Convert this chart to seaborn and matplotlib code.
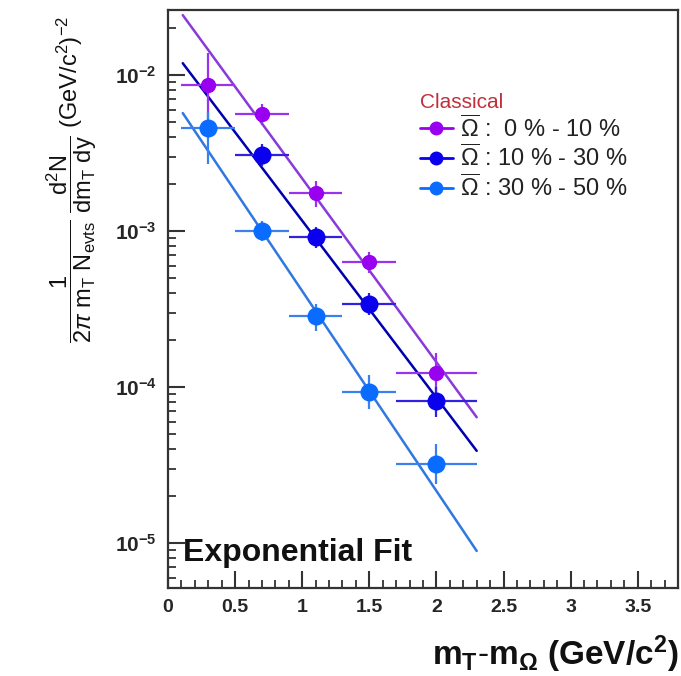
import numpy as np
import pandas as pd
import matplotlib
matplotlib.use("Agg")
import matplotlib.pyplot as plt
from matplotlib.lines import Line2D
from matplotlib.ticker import MultipleLocator, LogLocator, NullFormatter, FixedLocator
import seaborn as sns

# ---------------- data ----------------
series_labels = ["0 % - 10 %", "10 % - 30 %", "30 % - 50 %"]

x_c0 = [0.3, 0.7, 1.1, 1.5, 2.0]
y_c0 = [8.6e-3, 5.6e-3, 1.75e-3, 6.3e-4, 1.23e-4]
ylo_c0 = [5.2e-3, 4.8e-3, 1.43e-3, 5.4e-4, 9.0e-5]
yhi_c0 = [1.38e-2, 6.5e-3, 2.1e-3, 7.3e-4, 1.65e-4]

x_c1 = [0.7, 1.1, 1.5, 2.0]
y_c1 = [3.05e-3, 9.1e-4, 3.4e-4, 8.1e-5]
ylo_c1 = [2.6e-3, 7.8e-4, 2.9e-4, 6.4e-5]
yhi_c1 = [3.6e-3, 1.06e-3, 4.0e-4, 1.0e-4]

x_c2 = [0.3, 0.7, 1.1, 1.5, 2.0]
y_c2 = [4.55e-3, 1.0e-3, 2.85e-4, 9.3e-5, 3.2e-5]
ylo_c2 = [2.7e-3, 8.6e-4, 2.3e-4, 7.2e-5, 2.4e-5]
yhi_c2 = [5.8e-3, 1.16e-3, 3.4e-4, 1.2e-4, 4.3e-5]

xerr_lo = [0.2, 0.2, 0.2, 0.2, 0.3]
xerr_hi = [0.2, 0.2, 0.2, 0.2, 0.3]

fit_x = [0.11, 2.3]
fit_c0 = [2.42e-2, 6.4e-5]
fit_c1 = [1.19e-2, 3.9e-5]
fit_c2 = [5.7e-3, 8.9e-6]

x_ticks = [0, 0.5, 1, 1.5, 2, 2.5, 3, 3.5]
x_ticklabels = ["0", "0.5", "1", "1.5", "2", "2.5", "3", "3.5"]
y_ticks = [1e-5, 1e-4, 1e-3, 1e-2]
y_ticklabels = ["$\\mathbf{10^{-5}}$", "$\\mathbf{10^{-4}}$", "$\\mathbf{10^{-3}}$", "$\\mathbf{10^{-2}}$"]

# ---------------- style ----------------
sns.set_style("ticks")
plt.rcParams["font.family"] = ["Liberation Sans", "DejaVu Sans"]
plt.rcParams["mathtext.fontset"] = "custom"
plt.rcParams["mathtext.rm"] = "Liberation Sans"
plt.rcParams["mathtext.it"] = "Liberation Sans:italic"
plt.rcParams["mathtext.bf"] = "Liberation Sans:bold"
plt.rcParams["mathtext.sf"] = "Liberation Sans"

marker_colors = ["#9a00f0", "#0a00ee", "#0a6cff"]
line_colors = ["#8a3ad8", "#0000b0", "#2f78e0"]
err_colors = ["#9a33ee", "#3322dd", "#3a80ee"]
msizes = [11, 13, 13]

fig = plt.figure(figsize=(6.81, 6.76), dpi=100)
ax = fig.add_axes([168 / 681, 1 - 588 / 676, 510 / 681, 578 / 676])
ax.set_yscale("log")
ax.set_xlim(0, 3.8)
ax.set_ylim(5.15e-6, 2.61e-2)

# fit lines
for fx, fy, c in [(fit_x, fit_c0, line_colors[0]), (fit_x, fit_c1, line_colors[1]), (fit_x, fit_c2, line_colors[2])]:
    dfl = pd.DataFrame({"x": fx, "y": fy})
    sns.lineplot(data=dfl, x="x", y="y", ax=ax, color=c, lw=1.8, legend=False, zorder=2)

# data points with errors
sets = [
    (x_c0, y_c0, ylo_c0, yhi_c0),
    (x_c1, y_c1, ylo_c1, yhi_c1),
    (x_c2, y_c2, ylo_c2, yhi_c2),
]
for i, (xs, ys, lo, hi) in enumerate(sets):
    xs = np.array(xs); ys = np.array(ys)
    n = len(xs)
    xl = np.array(xerr_lo[-n:]); xh = np.array(xerr_hi[-n:])
    yerr = [ys - np.array(lo), np.array(hi) - ys]
    ax.errorbar(xs, ys, xerr=[xl, xh], yerr=yerr, fmt="none", ecolor=err_colors[i],
                elinewidth=1.6, capsize=0, zorder=3)
    dfp = pd.DataFrame({"x": xs, "y": ys})
    sns.scatterplot(data=dfp, x="x", y="y", ax=ax, color=marker_colors[i], s=msizes[i] ** 2,
                    edgecolor=marker_colors[i], linewidth=0, zorder=4, legend=False)

# axes styling
for side in ["left", "bottom", "right", "top"]:
    ax.spines[side].set_color("#333333")
    ax.spines[side].set_linewidth(1.6)
ax.xaxis.set_major_locator(FixedLocator(x_ticks))
ax.xaxis.set_minor_locator(MultipleLocator(0.1))
ax.set_xticklabels(x_ticklabels, fontsize=14, fontweight="bold")
ax.yaxis.set_major_locator(FixedLocator(y_ticks))
ax.yaxis.set_minor_locator(LogLocator(base=10, subs=np.arange(2, 10)))
ax.yaxis.set_minor_formatter(NullFormatter())
ax.set_yticklabels(y_ticklabels, fontsize=15)
ax.tick_params(axis="both", which="major", direction="in", length=12, width=1.5, color="#333333", pad=8)
ax.tick_params(axis="both", which="minor", direction="in", length=6, width=1.3, color="#333333")
ax.tick_params(top=False, right=False, which="both")
ax.set_xlabel("")
ax.set_ylabel("")

# legend
handles = [Line2D([0], [0], color=marker_colors[i], marker="o", markersize=9, lw=2) for i in range(3)]
labels = ["$\\overline{\\Omega}$ :  " + series_labels[0],
          "$\\overline{\\Omega}$ : " + series_labels[1],
          "$\\overline{\\Omega}$ : " + series_labels[2]]
leg = ax.legend(handles, labels, loc="upper left", bbox_to_anchor=(0.475, 0.873), frameon=False,
                fontsize=17, title="Classical", title_fontsize=15, handlelength=1.4,
                handletextpad=0.3, labelspacing=0.12, borderaxespad=0)
leg.get_title().set_color("#c0303a")
leg._legend_box.align = "left"
for t in leg.get_texts():
    t.set_color("#222222")

# texts
ax.text(0.03, 0.06, "Exponential Fit", transform=ax.transAxes, fontsize=23, fontweight="bold",
        ha="left", va="center", color="#111111")
fig.text(0.997, 0.032, "$\\mathbf{m_T}$$\\mathbf{\\text{-}m_\\Omega}$ $\\mathbf{(GeV/c^2)}$",
         ha="right", va="center", fontsize=24, color="#111111")
fig.text(0.105, 0.735,
         "$\\dfrac{1}{2\\pi\\ \\mathrm{m_T\\ N_{evts}}}\\ \\dfrac{\\mathrm{d^2N}}{\\mathrm{dm_T\\ dy}}$ (GeV/c$^2$)$^{-2}$",
         rotation=90, ha="center", va="center", fontsize=17, color="#111111")

fig.savefig("out.png", dpi=100)
